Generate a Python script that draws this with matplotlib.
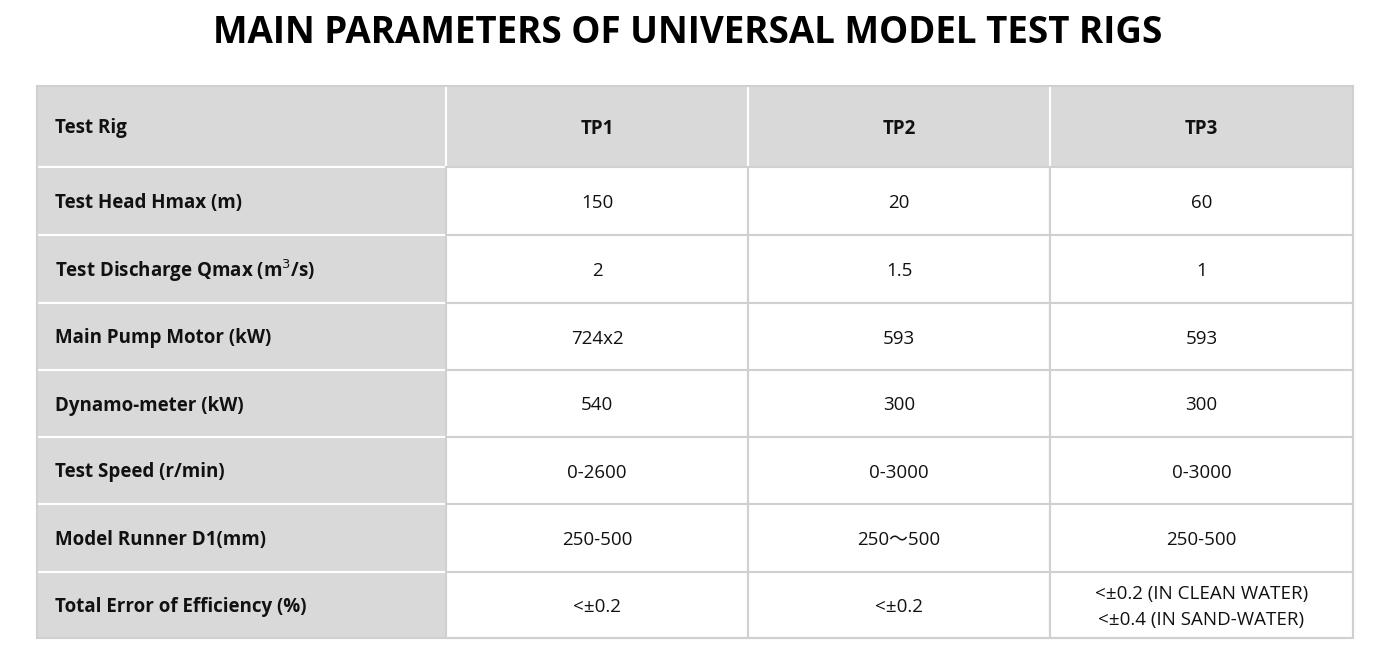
import matplotlib
matplotlib.use("Agg")
import matplotlib.pyplot as plt
from matplotlib.patches import Rectangle

plt.rcParams['font.family'] = ['Open Sans', 'Noto Sans CJK SC', 'DejaVu Sans']

title = "MAIN PARAMETERS OF UNIVERSAL MODEL TEST RIGS"
header = ["Test Rig", "TP1", "TP2", "TP3"]
row_labels = ["Test Head Hmax (m)", r"Test Discharge Qmax (m$^3$/s)", "Main Pump Motor (kW)",
              "Dynamo-meter (kW)", "Test Speed (r/min)", "Model Runner D1(mm)",
              "Total Error of Efficiency (%)"]
tp1 = ["150", "2", "724x2", "540", "0-2600", "250-500", "<±0.2"]
tp2 = ["20", "1.5", "593", "300", "0-3000", "250～500", "<±0.2"]
tp3 = ["60", "1", "593", "300", "0-3000", "250-500", "<±0.2 (IN CLEAN WATER)\n<±0.4 (IN SAND-WATER)"]

W, H = 1376, 651
fig = plt.figure(figsize=(W/100, H/100), dpi=100)
ax = fig.add_axes([0, 0, 1, 1])
ax.set_xlim(0, W); ax.set_ylim(H, 0); ax.axis('off')

grey = '#d9d9d9'
line = '#d0d0d0'
xs = [37, 446, 748, 1050, 1353]
ys = [86, 167, 235, 303, 370, 437, 504, 572, 638]

ax.text(W/2, 33, title, ha='center', va='center', fontsize=26.5, fontweight='bold', color='black')

cols = [tp1, tp2, tp3]
for r in range(len(ys)-1):
    for c in range(4):
        x0, x1 = xs[c], xs[c+1]; y0, y1 = ys[r], ys[r+1]
        fill = grey if (r == 0 or c == 0) else 'white'
        ax.add_patch(Rectangle((x0, y0), x1-x0, y1-y0, facecolor=fill,
                               edgecolor='white' if fill == grey else line, lw=1.5))
        yc = (y0+y1)/2 + 2
        if r == 0:
            txt = header[c]; bold = True
        elif c == 0:
            txt = row_labels[r-1]; bold = True
        else:
            txt = cols[c-1][r-1]; bold = False
        if c == 0:
            ax.text(x0+18, yc, txt, ha='left', va='center', fontsize=13.5,
                    fontweight='bold' if bold else 'normal', color='#111111')
        else:
            ax.text((x0+x1)/2, yc, txt, ha='center', va='center', fontsize=13.5,
                    fontweight='bold' if bold else 'normal', color='#111111', linespacing=1.6)
ax.add_patch(Rectangle((xs[0], ys[0]), xs[-1]-xs[0], ys[-1]-ys[0], fill=False, edgecolor=line, lw=1.5))

fig.savefig("out.png", dpi=100, facecolor='white')
